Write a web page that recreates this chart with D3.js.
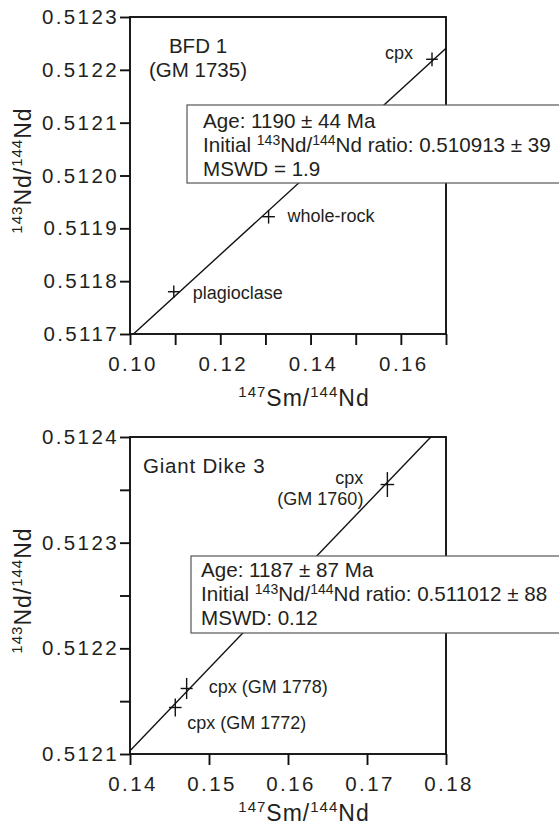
<!DOCTYPE html>
<html>
<head>
<meta charset="utf-8">
<script src="https://cdn.jsdelivr.net/npm/d3@7"></script>
<style>
body { margin: 0; background: #fff; }
text { font-family: "Liberation Sans", Arial, sans-serif; fill: #231f20; }
.tick text { font-size: 20.5px; letter-spacing: 2.4px; }
</style>
</head>
<body>
<div id="graph"></div>
<script>
// ---- panel 1: BFD 1 (GM 1735)
var bfdNames = ["plagioclase", "whole-rock", "cpx"];
var bfdSm = [0.1097, 0.1307, 0.1669];
var bfdNd = [0.51178, 0.511922, 0.51222];
var bfdSmErr = [0.0013, 0.0014, 0.0013];
var bfdNdErr = [0.000012, 0.000013, 0.000013];
var bfdIsochron = [0.510913, 0.00781];   // intercept, slope
var bfdXTicks = [0.10, 0.11, 0.12, 0.13, 0.14, 0.15, 0.16, 0.17];
var bfdXLabels = ["0.10", "", "0.12", "", "0.14", "", "0.16", ""];
var bfdYTicks = [0.5117, 0.5118, 0.5119, 0.5120, 0.5121, 0.5122, 0.5123];
var bfdYLabels = ["0.5117", "0.5118", "0.5119", "0.5120", "0.5121", "0.5122", "0.5123"];
var bfdTitle = ["BFD 1", "(GM 1735)"];
var bfdStats = ["Age: 1190 \u00b1 44 Ma", "0.510913 \u00b1 39", "MSWD = 1.9"];

// ---- panel 2: Giant Dike 3
var gdNames = [["cpx (GM 1772)"], ["cpx (GM 1778)"], ["cpx", "(GM 1760)"]];
var gdSm = [0.14573, 0.14717, 0.17258];
var gdNd = [0.512144, 0.512162, 0.512355];
var gdSmErr = [0.0008, 0.00076, 0.00086];
var gdNdErr = [0.0000085, 0.00001, 0.0000118];
var gdIsochron = [0.511012, 0.007794];
var gdXTicks = [0.14, 0.15, 0.16, 0.17, 0.18];
var gdXLabels = ["0.14", "0.15", "0.16", "0.17", "0.18"];
var gdYTicks = [0.5121, 0.51215, 0.5122, 0.51225, 0.5123, 0.51235, 0.5124];
var gdYLabels = ["0.5121", "", "0.5122", "", "0.5123", "", "0.5124"];
var gdTitle = ["Giant Dike 3"];
var gdStats = ["Age: 1187 \u00b1 87 Ma", "0.511012 \u00b1 88", "MSWD: 0.12"];

var W = 559, H = 827;
var svg = d3.select("#graph").append("svg")
    .attr("width", W)
    .attr("height", H);

var drawPanel = function(p) {
    var width = 316, height = 317;

    var g = svg.append("g")
        .attr("transform", "translate(" + p.left + "," + p.top + ")");

    var x = d3.scaleLinear()
        .domain([p.xTicks[0], p.xTicks[p.xTicks.length - 1]])
        .range([0, width]);
    var y = d3.scaleLinear()
        .domain([p.yTicks[0], p.yTicks[p.yTicks.length - 1]])
        .range([height, 0]);

    var clipId = "clip" + p.id;
    g.append("clipPath").attr("id", clipId)
      .append("rect").attr("width", width).attr("height", height);

    // isochron
    var xd = x.domain();
    g.append("line")
        .attr("clip-path", "url(#" + clipId + ")")
        .attr("x1", x(xd[0])).attr("y1", y(p.iso[0] + p.iso[1] * xd[0]))
        .attr("x2", x(xd[1])).attr("y2", y(p.iso[0] + p.iso[1] * xd[1]))
        .attr("stroke", "#111").attr("stroke-width", 1.4);

    // points as error crosses
    var pts = g.append("g").selectAll("g")
        .data(p.sm.map(function(d, i) { return {sm: d, nd: p.nd[i], se: p.smErr[i], ne: p.ndErr[i], name: p.names[i], lab: p.lab[i]}; }))
        .enter().append("g");
    pts.append("line")
        .attr("x1", function(d) { return x(d.sm - d.se); })
        .attr("x2", function(d) { return x(d.sm + d.se); })
        .attr("y1", function(d) { return y(d.nd); })
        .attr("y2", function(d) { return y(d.nd); })
        .attr("stroke", "#111").attr("stroke-width", 1.4);
    pts.append("line")
        .attr("x1", function(d) { return x(d.sm); })
        .attr("x2", function(d) { return x(d.sm); })
        .attr("y1", function(d) { return y(d.nd - d.ne); })
        .attr("y2", function(d) { return y(d.nd + d.ne); })
        .attr("stroke", "#111").attr("stroke-width", 1.4);
    var lt = pts.append("text")
        .attr("x", function(d) { return x(d.sm) + d.lab[0]; })
        .attr("y", function(d) { return y(d.nd) + d.lab[1]; })
        .attr("text-anchor", function(d) { return d.lab[2]; })
        .style("font-size", "18px");
    lt.selectAll("tspan")
        .data(function(d) { return d.name.map(function(s) { return {s: s, d: d}; }); })
        .enter().append("tspan")
        .attr("x", function(t) { return x(t.d.sm) + t.d.lab[0]; })
        .attr("dy", function(t, i) { return i ? 21 : 0; })
        .text(function(t) { return t.s; });

    // sample title
    var tt = g.append("text")
        .attr("x", p.titlePos[0]).attr("y", p.titlePos[1])
        .attr("text-anchor", p.titlePos[2])
        .style("font-size", "20.5px").style("letter-spacing", p.titlePos[3] + "px");
    tt.selectAll("tspan").data(p.title).enter().append("tspan")
        .attr("x", p.titlePos[0])
        .attr("dy", function(d, i) { return i ? 24 : 0; })
        .text(function(d) { return d; });

    // frame
    g.append("rect")
        .attr("width", width).attr("height", height)
        .attr("fill", "none").attr("stroke", "#111").attr("stroke-width", 1.9);

    // axes
    var xAxis = g.append("g")
        .attr("transform", "translate(0," + height + ")")
        .call(d3.axisBottom(x).tickValues(p.xTicks).tickSize(11).tickSizeOuter(0).tickPadding(11)
            .tickFormat(function(d, i) { return p.xLabels[i]; }));
    xAxis.selectAll("text").attr("dx", 2.5);
    var yAxis = g.append("g")
        .call(d3.axisLeft(y).tickValues(p.yTicks).tickSize(10).tickSizeOuter(0).tickPadding(1)
            .tickFormat(function(d, i) { return p.yLabels[i]; }));
    [xAxis, yAxis].forEach(function(a) {
        a.select(".domain").remove();
        a.selectAll("line").attr("stroke", "#111").attr("stroke-width", 1.9);
        a.attr("font-family", null).attr("font-size", null);
        a.selectAll("text").attr("fill", "#231f20");
    });

    // stats box
    var box = g.append("g")
        .attr("transform", "translate(" + p.box[0] + "," + p.box[1] + ")");
    box.append("rect")
        .attr("width", 400).attr("height", p.box[2])
        .attr("fill", "#fff").attr("stroke", "#555").attr("stroke-width", 1.2);
    var bt = box.append("g").style("font-size", "20.6px");
    bt.append("text").attr("x", p.box[3]).attr("y", p.box[4]).text(p.stats[0]);
    var ini = bt.append("text").attr("x", p.box[3]).attr("y", p.box[4] + 24);
    ini.append("tspan").text("Initial ");
    ini.append("tspan").attr("dy", -7).style("font-size", "14px").text("143");
    ini.append("tspan").attr("dy", 7).text("Nd/");
    ini.append("tspan").attr("dy", -7).style("font-size", "14px").text("144");
    ini.append("tspan").attr("dy", 7).text("Nd ratio: " + p.stats[1]);
    bt.append("text").attr("x", p.box[3]).attr("y", p.box[4] + 48).text(p.stats[2]);

    // axis titles
    var labels = svg.append("g").classed("labels", true);
    var xt = labels.append("text")
        .attr("x", p.left + 174).attr("y", p.top + height + p.xTitleDy)
        .attr("text-anchor", "middle")
        .style("font-size", "23px").style("letter-spacing", "1px");
    xt.append("tspan").attr("dy", -9).style("font-size", "15px").text("147");
    xt.append("tspan").attr("dy", 9).text("Sm/");
    xt.append("tspan").attr("dy", -9).style("font-size", "15px").text("144");
    xt.append("tspan").attr("dy", 9).text("Nd");

    var yt = labels.append("g")
        .attr("transform", "translate(31," + (p.top + height / 2 - 5) + ")")
      .append("text")
        .attr("text-anchor", "middle")
        .attr("transform", "rotate(-90)")
        .style("font-size", "23px").style("letter-spacing", "1px");
    yt.append("tspan").attr("dy", -9).style("font-size", "15px").text("143");
    yt.append("tspan").attr("dy", 9).text("Nd/");
    yt.append("tspan").attr("dy", -9).style("font-size", "15px").text("144");
    yt.append("tspan").attr("dy", 9).text("Nd");
};

drawPanel({
    id: 1, left: 130, top: 17, xTitleDy: 72,
    names: bfdNames.map(function(n) { return [n]; }),
    sm: bfdSm, nd: bfdNd, smErr: bfdSmErr, ndErr: bfdNdErr, iso: bfdIsochron,
    xTicks: bfdXTicks, xLabels: bfdXLabels, yTicks: bfdYTicks, yLabels: bfdYLabels,
    lab: [[19, 7, "start"], [19, 5, "start"], [-19, 0, "end"]],
    title: bfdTitle, titlePos: [68, 36, "middle", 0],
    stats: bfdStats, box: [57, 88, 78, 16, 23]
});
drawPanel({
    id: 2, left: 130, top: 437, xTitleDy: 67,
    names: gdNames,
    sm: gdSm, nd: gdNd, smErr: gdSmErr, ndErr: gdNdErr, iso: gdIsochron,
    xTicks: gdXTicks, xLabels: gdXLabels, yTicks: gdYTicks, yLabels: gdYLabels,
    lab: [[12, 21, "start"], [22, 5, "start"], [-24, -1, "end"]],
    title: gdTitle, titlePos: [13, 36, "start", 0.8],
    stats: gdStats, box: [61, 119, 77, 10, 21]
});
</script>
</body>
</html>
